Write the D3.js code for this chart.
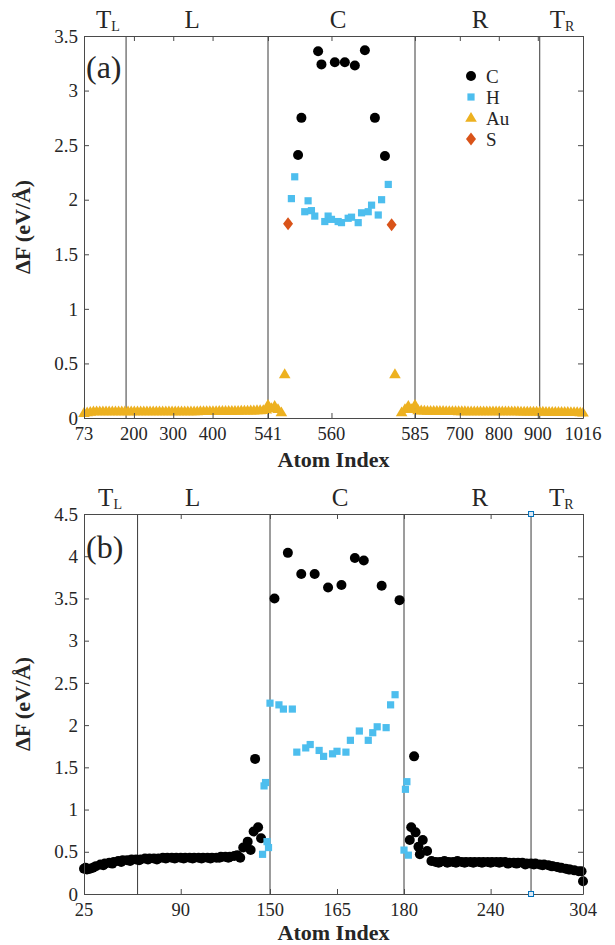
<!DOCTYPE html>
<html>
<head>
<meta charset="utf-8">
<script src="https://cdn.jsdelivr.net/npm/d3@7"></script>
<style>
  body { margin: 0; background: #fff; }
</style>
</head>
<body>
<svg id="chart" width="615" height="945"></svg>
<script>
// ---------- panel (a) data ----------
const ticksA = [73, 200, 300, 400, 541, 560, 585, 700, 800, 900, 1016]
const yTicksA = [0, 0.5, 1, 1.5, 2, 2.5, 3, 3.5]
const dividersA = [180, 541, 585, 905]
const regionPosA = [134, 348, 562, 752, 962]

const cIndexA = [550, 551, 556, 557, 561, 564, 567, 570, 573, 576]
const cValueA = [2.41, 2.75, 3.36, 3.24, 3.26, 3.26, 3.23, 3.37, 2.75, 2.40]

const hIndexA = [548, 549, 552, 553, 554, 555, 558, 559, 560, 562, 563, 565, 566, 568, 569, 571, 572, 574, 575, 577]
const hValueA = [2.01, 2.21, 1.89, 1.99, 1.90, 1.85, 1.80, 1.85, 1.82, 1.80, 1.79, 1.83, 1.84, 1.79, 1.88, 1.89, 1.95, 1.86, 2.00, 2.14]

const sIndexA = [547, 578]
const sValueA = [1.78, 1.77]

const auIndexA = [
  73, 81, 89, 97, 105, 113, 121, 129, 137, 145, 153, 161, 169, 177, 185, 193, 201, 209, 217, 225,
  233, 241, 249, 257, 265, 273, 281, 289, 297, 305, 313, 321, 329, 337, 345, 353, 361, 369, 377, 385,
  393, 401, 409, 417, 425, 433, 441, 449, 457, 465, 473, 481, 489, 497, 505, 513, 521, 529, 537,
  541, 542, 543, 544, 545, 546,
  579, 581, 582, 583, 584, 585,
  593, 601, 609, 617, 625, 633, 641, 649, 657, 665, 673, 681, 689, 697, 705, 713, 721, 729, 737, 745,
  753, 761, 769, 777, 785, 793, 801, 809, 817, 825, 833, 841, 849, 857, 865, 873, 881, 889, 897, 905,
  913, 921, 929, 937, 945, 953, 961, 969, 977, 985, 993, 1001, 1009, 1016
]
const auValueA = [
  0.045, 0.05, 0.055, 0.06, 0.06, 0.06, 0.06, 0.06, 0.06, 0.06, 0.06, 0.06, 0.06, 0.06, 0.06, 0.06, 0.06, 0.06, 0.06, 0.06,
  0.06, 0.06, 0.06, 0.06, 0.06, 0.06, 0.06, 0.06, 0.06, 0.06, 0.06, 0.06, 0.06, 0.06, 0.06, 0.06, 0.06, 0.062, 0.062, 0.062,
  0.062, 0.062, 0.062, 0.063, 0.063, 0.063, 0.064, 0.064, 0.065, 0.065, 0.066, 0.066, 0.067, 0.068, 0.068, 0.07, 0.07, 0.072, 0.075,
  0.12, 0.09, 0.11, 0.08, 0.05, 0.40,
  0.40, 0.05, 0.08, 0.11, 0.08, 0.12,
  0.07, 0.068, 0.066, 0.065, 0.065, 0.064, 0.064, 0.063, 0.063, 0.062, 0.062, 0.062, 0.062, 0.061, 0.061, 0.061, 0.06, 0.06, 0.06, 0.06,
  0.06, 0.06, 0.06, 0.06, 0.06, 0.06, 0.06, 0.06, 0.06, 0.06, 0.06, 0.06, 0.06, 0.058, 0.058, 0.058, 0.058, 0.058, 0.057, 0.057,
  0.057, 0.056, 0.056, 0.055, 0.055, 0.055, 0.055, 0.054, 0.054, 0.053, 0.053, 0.052, 0.05, 0.048
]

// ---------- panel (b) data ----------
const ticksB = [25, 90, 150, 165, 180, 240, 304]
const yTicksB = [0, 0.5, 1, 1.5, 2, 2.5, 3, 3.5, 4, 4.5]
const dividersB = [61, 150, 180, 268]
const regionPosB = [42.5, 98, 165.7, 232.6, 289]

const cIndexB = [
  25, 26, 27, 28, 29, 31, 33, 36, 39, 42, 45, 48, 51, 54, 57, 60, 63, 66, 69, 72, 75, 78,
  81, 84, 87, 90, 93, 96, 99, 102, 105, 108, 111, 114, 117, 120, 123, 126, 128,
  38, 44, 50, 56, 62, 68, 74, 80, 86, 92, 98, 104, 110, 116, 122,
  130, 132, 135, 137, 139, 140, 142, 144,
  151, 154, 157, 160, 163, 166, 169, 171, 175, 179,
  184, 185, 187, 188, 190, 191, 193, 196, 199,
  202, 205, 208, 211, 214, 217, 220, 223, 226, 229, 232, 235, 238, 241, 244, 247, 250,
  253, 256, 259, 262, 265, 268, 271, 274, 277, 280, 283, 286, 289, 292, 295, 298, 301, 303, 304,
  204, 210, 216, 222, 228, 234, 240, 246, 252, 258, 264, 270, 276, 282, 288, 294
]
const cValueB = [
  0.30, 0.31, 0.29, 0.30, 0.30, 0.31, 0.33, 0.35, 0.36, 0.37, 0.38, 0.39, 0.40, 0.40, 0.41, 0.41, 0.41, 0.42, 0.42, 0.42, 0.42, 0.43,
  0.43, 0.43, 0.43, 0.43, 0.43, 0.43, 0.43, 0.43, 0.43, 0.43, 0.43, 0.43, 0.44, 0.44, 0.44, 0.45, 0.46,
  0.34, 0.36, 0.38, 0.39, 0.40, 0.41, 0.41, 0.42, 0.42, 0.42, 0.42, 0.42, 0.42, 0.43, 0.43,
  0.43, 0.55, 0.62, 0.52, 0.74, 1.60, 0.79, 0.66,
  3.50, 4.04, 3.79, 3.79, 3.63, 3.66, 3.98, 3.95, 3.65, 3.48,
  0.64, 0.79, 1.63, 0.73, 0.56, 0.47, 0.64, 0.51, 0.39,
  0.38, 0.38, 0.39, 0.38, 0.38, 0.39, 0.38, 0.38, 0.38, 0.38, 0.38, 0.38, 0.38, 0.38, 0.38, 0.38, 0.38,
  0.37, 0.37, 0.37, 0.37, 0.36, 0.36, 0.36, 0.35, 0.35, 0.34, 0.33, 0.32, 0.31, 0.30, 0.29, 0.28, 0.27, 0.27, 0.15,
  0.37, 0.37, 0.37, 0.37, 0.37, 0.37, 0.37, 0.37, 0.36, 0.36, 0.35, 0.35, 0.34, 0.33, 0.31, 0.29
]

const hIndexB = [145, 146, 147, 148, 149, 150, 152, 153, 155, 156, 158, 159, 161, 162, 164, 165, 167, 168, 170, 172, 173, 174, 176, 177, 178, 180, 181, 182, 183]
const hValueB = [0.47, 1.28, 1.32, 0.62, 0.55, 2.26, 2.24, 2.19, 2.19, 1.68, 1.73, 1.77, 1.70, 1.63, 1.66, 1.69, 1.68, 1.82, 1.93, 1.82, 1.91, 1.98, 1.97, 2.24, 2.36, 0.52, 1.24, 1.33, 0.46]

const regionNames = [['T', 'L'], ['L', ''], ['C', ''], ['R', ''], ['T', 'R']]

const colors = { C: '#000000', H: '#4dbeee', Au: '#edb120', S: '#d95319' }

const serif = "'Liberation Serif', 'DejaVu Serif', serif"

const svg = d3.select('#chart')

// marker shapes
const markerPath = {
  C: 'M5,0A5,5,0,1,1,-5,0A5,5,0,1,1,5,0Z',
  H: 'M-3.6,-3.6H3.6V3.6H-3.6Z',
  Au: 'M0,-6L5.8,3.8H-5.8Z',
  S: 'M0,-6.5L5,0L0,6.5L-5,0Z'
}

function zip(xs, ys) {
  return xs.map((x, i) => ({ x: x, y: ys[i] }))
}

function label(sel) {
  return sel.append('text').style('font-family', serif).attr('fill', '#262626')
}

function drawPanel(cfg) {
  const x = d3.scaleLinear().domain(cfg.xDomain).range(cfg.xRange)
  const y = d3.scaleLinear().domain(cfg.yDomain).range(cfg.yRange)
  const left = cfg.xRange[0]
  const right = cfg.xRange[cfg.xRange.length - 1]
  const top = cfg.yRange[1]
  const bottom = cfg.yRange[0]

  const g = svg.append('g')

  // region dividers
  g.selectAll('.divider')
    .data(cfg.dividers)
    .enter()
    .append('line')
    .attr('x1', d => x(d))
    .attr('x2', d => x(d))
    .attr('y1', top)
    .attr('y2', bottom)
    .attr('stroke', '#3a3a3a')
    .attr('stroke-width', 1)

  // series
  cfg.series.forEach(s => {
    g.append('g')
      .selectAll('path')
      .data(zip(s.index, s.value))
      .enter()
      .append('path')
      .attr('d', markerPath[s.name])
      .attr('transform', d => `translate(${x(d.x)},${y(d.y)})`)
      .attr('fill', colors[s.name])
  })

  // axes box with inward ticks (mirrored)
  const axB = d3.axisBottom(x).tickValues(cfg.xTicks).tickSizeInner(-5).tickSizeOuter(0).tickFormat('')
  const axT = d3.axisTop(x).tickValues(cfg.xTicks).tickSizeInner(-5).tickSizeOuter(0).tickFormat('')
  const axL = d3.axisLeft(y).tickValues(cfg.yTicks).tickSizeInner(-5).tickSizeOuter(0).tickFormat('')
  const axR = d3.axisRight(y).tickValues(cfg.yTicks).tickSizeInner(-5).tickSizeOuter(0).tickFormat('')

  const axes = [
    [axB, `translate(0,${bottom})`],
    [axT, `translate(0,${top})`],
    [axL, `translate(${left},0)`],
    [axR, `translate(${right},0)`]
  ]
  axes.forEach(([ax, tr]) => {
    const a = g.append('g').attr('transform', tr).call(ax)
    a.selectAll('path,line').attr('stroke', '#4a4a4a').attr('stroke-width', 1)
  })

  // tick labels
  g.selectAll('.xlab')
    .data(cfg.xTicks)
    .enter()
    .append('text')
    .style('font-family', serif)
    .attr('fill', '#262626')
    .attr('x', d => x(d))
    .attr('y', bottom + 22)
    .attr('text-anchor', 'middle')
    .attr('font-size', 18.5)
    .text(d => d)

  g.selectAll('.ylab')
    .data(cfg.yTicks)
    .enter()
    .append('text')
    .style('font-family', serif)
    .attr('fill', '#262626')
    .attr('x', left - 6)
    .attr('y', d => y(d))
    .attr('dy', '0.35em')
    .attr('text-anchor', 'end')
    .attr('font-size', 19)
    .text(d => d)

  // axis titles
  label(g)
    .attr('x', (left + right) / 2)
    .attr('y', bottom + cfg.titleOffset)
    .attr('text-anchor', 'middle')
    .attr('font-size', 22)
    .attr('font-weight', 'bold')
    .text('Atom Index')

  label(g)
    .attr('transform', `translate(30,${(top + bottom) / 2}) rotate(-90)`)
    .attr('text-anchor', 'middle')
    .attr('font-size', 22)
    .attr('font-weight', 'bold')
    .text('ΔF (eV/Å)')

  // panel letter
  label(g)
    .attr('x', left + 2)
    .attr('y', top + cfg.letterOffset)
    .attr('font-size', 32)
    .text(cfg.letter)

  // region names
  const rn = g.selectAll('.region')
    .data(regionNames)
    .enter()
    .append('text')
    .style('font-family', serif)
    .attr('fill', '#262626')
    .attr('x', (d, i) => x(cfg.regionPos[i]))
    .attr('y', top - 8)
    .attr('text-anchor', 'middle')
    .attr('font-size', 25)
  rn.append('tspan').text(d => d[0])
  rn.append('tspan')
    .attr('font-size', 14)
    .attr('dy', 3)
    .text(d => d[1])

  return { g, x, y }
}

const pa = drawPanel({
  xDomain: [73, 541, 585, 1016],
  xRange: [84, 268, 415, 583],
  yDomain: [0, 3.5],
  yRange: [418, 36],
  xTicks: ticksA,
  yTicks: yTicksA,
  dividers: dividersA,
  regionPos: regionPosA,
  titleOffset: 49,
  letterOffset: 42,
  letter: '(a)',
  series: [
    { name: 'C', index: cIndexA, value: cValueA },
    { name: 'H', index: hIndexA, value: hValueA },
    { name: 'Au', index: auIndexA, value: auValueA },
    { name: 'S', index: sIndexA, value: sValueA }
  ]
})

// legend (panel a)
const legendItems = ['C', 'H', 'Au', 'S']
const legend = pa.g.append('g').attr('transform', 'translate(471,76)')
legend.selectAll('path')
  .data(legendItems)
  .enter()
  .append('path')
  .attr('d', d => markerPath[d])
  .attr('transform', (d, i) => `translate(0,${i * 21})`)
  .attr('fill', d => colors[d])
legend.selectAll('text')
  .data(legendItems)
  .enter()
  .append('text')
  .style('font-family', serif)
  .attr('fill', '#262626')
  .attr('x', 15)
  .attr('y', (d, i) => i * 21)
  .attr('dy', '0.35em')
  .attr('font-size', 19)
  .text(d => d)

const pb = drawPanel({
  xDomain: [25, 150, 180, 304],
  xRange: [84, 270, 404, 583],
  yDomain: [0, 4.5],
  yRange: [894, 514],
  xTicks: ticksB,
  yTicks: yTicksB,
  dividers: dividersB,
  regionPos: regionPosB,
  titleOffset: 46,
  letterOffset: 44,
  letter: '(b)',
  series: [
    { name: 'C', index: cIndexB, value: cValueB },
    { name: 'H', index: hIndexB, value: hValueB }
  ]
})

// small handle markers on the T_R divider of panel (b)
pb.g.selectAll('.handle')
  .data([4.5, 0])
  .enter()
  .append('rect')
  .attr('x', pb.x(268) - 2.5)
  .attr('y', d => pb.y(d) - 2.5)
  .attr('width', 5)
  .attr('height', 5)
  .attr('fill', '#dfeaf5')
  .attr('stroke', '#0072bd')
  .attr('stroke-width', 1)
</script>
</body>
</html>
